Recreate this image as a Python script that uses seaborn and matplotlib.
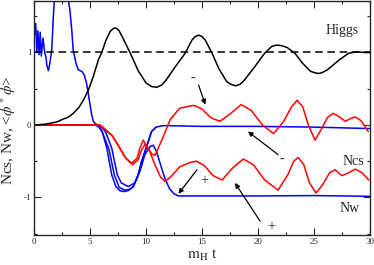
import matplotlib
matplotlib.use("Agg")
import matplotlib.pyplot as plt
from matplotlib.ticker import MultipleLocator
import pandas as pd
import seaborn as sns

# Higgs <phi* phi>
higgs_t = [0, 1.0, 2.0, 2.6, 3.1, 3.5, 4.0, 4.4, 4.85, 5.3, 5.75, 6.05, 6.4, 6.8, 7.0, 7.2,
           7.4, 7.6, 8.0, 8.6, 9.3, 10.0, 10.5, 10.95, 11.4, 11.8, 12.6, 13.5, 14.1, 14.4, 14.7,
           15.0, 15.3, 15.9, 16.5, 17.2, 17.6, 18.0, 18.4, 18.8, 19.7, 20.6, 21.2, 21.6, 21.9,
           22.2, 22.6, 23.3, 24.0, 24.7, 25.1, 25.4, 25.7, 26.2, 27.2, 28.1, 28.9, 29.5, 30.0]
higgs_v = [0.0, 0.01, 0.04, 0.08, 0.11, 0.16, 0.24, 0.34, 0.48, 0.67, 0.90, 1.0, 1.16, 1.29, 1.32, 1.34,
           1.33, 1.30, 1.18, 0.99, 0.75, 0.58, 0.53, 0.52, 0.55, 0.62, 0.80, 0.99, 1.17, 1.22, 1.24,
           1.22, 1.17, 0.99, 0.78, 0.60, 0.56, 0.54, 0.56, 0.62, 0.80, 0.99, 1.08, 1.10, 1.10,
           1.09, 1.07, 0.99, 0.85, 0.74, 0.72, 0.71, 0.72, 0.76, 0.89, 0.99, 1.01, 1.0, 1.0]

# blue, early oscillating curve that joins the Nw dip
nw_c_t = [0.05, 0.15, 0.25, 0.35, 0.45, 0.55, 0.65, 0.8, 0.95, 1.05, 1.15, 1.28, 1.4, 1.58,
          1.72, 1.85, 2.1, 2.5, 2.9, 3.07, 3.2, 3.37, 3.5, 3.75, 3.96, 4.26, 4.46, 4.7,
          4.94, 5.15, 5.3, 5.45, 5.7, 6.0, 6.3, 6.7, 7.17, 7.6, 8.1, 8.5, 8.87, 9.3,
          9.6, 9.9, 10.2, 10.5, 10.9]
nw_c_v = [1.25, 1.40, 1.0, 1.30, 0.97, 1.28, 0.95, 1.20, 1.0, 0.95, 0.82, 0.75, 0.84, 1.03,
          1.49, 1.80, 2.0, 2.1, 1.95, 1.72, 1.59, 1.31, 1.03, 0.85, 0.76, 0.74, 0.70, 0.57,
          0.34, 0.14, 0.05, 0.02, 0.0, -0.06, -0.18, -0.34, -0.69, -0.86, -0.90, -0.89, -0.85, -0.69,
          -0.51, -0.37, -0.23, -0.09, -0.03]

# Nw, "-" run (ends near 0)
nw_a_t = [0, 5.5, 5.8, 6.1, 6.5, 6.94, 7.3, 7.7, 8.1, 8.5, 8.87, 9.3, 9.6, 9.9, 10.2,
          10.5, 10.9, 11.5, 12.0, 15.0, 20.0, 25.0, 30.0]
nw_a_v = [0.0, 0.0, -0.03, -0.10, -0.32, -0.69, -0.85, -0.91, -0.92, -0.90, -0.85, -0.69,
          -0.51, -0.37, -0.23, -0.09, -0.03, -0.01, -0.01, -0.02, -0.02, -0.03, -0.05]

# Nw, "+" run (ends near -1)
nw_b_t = [0, 5.5, 6.0, 6.4, 6.94, 7.44, 7.8, 8.4, 9.0, 9.46, 9.9, 10.36, 10.65, 10.95,
          11.4, 11.7, 12.1, 12.5, 12.9, 14.0, 20.0, 25.0, 30.0]
nw_b_v = [0.0, 0.0, -0.02, -0.10, -0.32, -0.69, -0.80, -0.85, -0.80, -0.64, -0.41, -0.30,
          -0.28, -0.37, -0.60, -0.74, -0.88, -0.95, -0.98, -0.98, -0.98, -0.975, -0.985]

# Ncs, "-" run
ncs_a_t = [0, 5.8, 6.2, 6.94, 7.5, 8.1, 8.7, 9.2, 9.46, 9.75, 10.1, 10.5, 10.8, 11.1,
           11.55, 12.15, 13.0, 13.9, 14.3, 15.0, 15.8, 16.6, 17.5, 18.5, 19.4, 20.4,
           21.4, 22.3, 23.0, 23.5, 24.0, 24.5, 25.1, 25.7, 26.2, 26.7, 27.2, 27.8,
           28.3, 28.7, 29.2, 29.85]
ncs_a_v = [0.0, 0.0, -0.05, -0.14, -0.28, -0.44, -0.53, -0.46, -0.32, -0.21, -0.30, -0.40,
           -0.42, -0.32, -0.16, 0.07, 0.23, 0.26, 0.27, 0.22, 0.10, 0.05, 0.15, 0.28, 0.20,
           0.0, -0.12, 0.05, 0.25, 0.34, 0.25, 0.0, -0.21, -0.05, 0.10, 0.16, 0.12, 0.05,
           0.09, 0.11, 0.06, -0.09]

# Ncs, "+" run
ncs_b_t = [0, 5.9, 6.3, 7.0, 7.6, 8.2, 8.8, 9.3, 9.6, 9.9, 10.3, 10.8, 11.3, 11.7, 12.2,
           13.0, 13.9, 14.5, 15.2, 16.0, 16.8, 17.7, 18.7, 19.6, 20.6, 21.8, 22.7,
           23.2, 23.6, 24.1, 24.6, 25.2, 25.8, 26.4, 26.9, 27.5, 28.1, 28.7, 29.3, 29.9]
ncs_b_v = [0.0, 0.0, -0.05, -0.15, -0.30, -0.46, -0.55, -0.48, -0.35, -0.27, -0.35, -0.55,
           -0.72, -0.78, -0.72, -0.58, -0.52, -0.50, -0.56, -0.70, -0.76, -0.60, -0.47,
           -0.55, -0.76, -0.90, -0.68, -0.50, -0.45, -0.55, -0.80, -0.94, -0.82, -0.66,
           -0.62, -0.70, -0.66, -0.61, -0.66, -0.76]

sns.set_style("ticks")
plt.rcParams['font.family'] = ['Liberation Serif', 'DejaVu Serif']
plt.rcParams['mathtext.fontset'] = 'stix'
plt.rcParams['axes.unicode_minus'] = False

fig, ax = plt.subplots(figsize=(3.74, 2.65), dpi=100)
fig.subplots_adjust(left=0.091, right=0.989, top=0.996, bottom=0.113)

lw = 1.1
for tt, vv in [(nw_c_t, nw_c_v), (nw_a_t, nw_a_v), (nw_b_t, nw_b_v)]:
    sns.lineplot(x=tt, y=vv, ax=ax, color='#0000ff', lw=lw)
for tt, vv in [(ncs_a_t, ncs_a_v), (ncs_b_t, ncs_b_v)]:
    sns.lineplot(x=tt, y=vv, ax=ax, color='#ff0000', lw=lw)
sns.lineplot(x=higgs_t, y=higgs_v, ax=ax, color='black', lw=lw)
ax.axhline(1.0, color='black', lw=lw, ls=(0, (5, 3)))

ax.set_xlim(0, 30)
ax.set_ylim(-1.52, 1.71)
ax.xaxis.set_major_locator(MultipleLocator(5))
ax.xaxis.set_minor_locator(MultipleLocator(2.5))
ax.yaxis.set_major_locator(MultipleLocator(1))
ax.yaxis.set_minor_locator(MultipleLocator(0.5))
ax.tick_params(which='both', direction='in', top=True, right=True, labelsize=6.5, width=0.8)
ax.tick_params(which='major', length=5, pad=2)
ax.tick_params(which='minor', length=2.5)
for s in ax.spines.values():
    s.set_linewidth(1.0)

ax.set_xlabel(r'$\mathrm{m_H\ t}$', fontsize=11, labelpad=1.5)
ax.set_ylabel(r'Ncs, Nw, <$\phi^*\phi$>', fontsize=11)
ax.yaxis.set_label_coords(-0.047, 0.45)

ax.text(27.5, 1.30, 'Higgs', fontsize=10, ha='center', va='center')
ax.text(28.5, -0.50, 'Ncs', fontsize=10, ha='center', va='center')
ax.text(28.2, -1.15, 'Nw', fontsize=10, ha='center', va='center')
ax.text(14.2, 0.64, '-', fontsize=10, ha='center', va='center')
ax.text(22.1, -0.48, '-', fontsize=10, ha='center', va='center')
ax.text(15.2, -0.77, '+', fontsize=10, ha='center', va='center')
ax.text(21.2, -1.40, '+', fontsize=10, ha='center', va='center')

arrow = dict(arrowstyle='-|>', color='black', lw=0.9, mutation_scale=7, shrinkA=0, shrinkB=0)
ax.annotate('', xy=(15.3, 0.28), xytext=(14.7, 0.55), arrowprops=arrow)
ax.annotate('', xy=(19.1, -0.09), xytext=(21.8, -0.41), arrowprops=arrow)
ax.annotate('', xy=(12.9, -0.95), xytext=(14.55, -0.62), arrowprops=arrow)
ax.annotate('', xy=(17.95, -0.80), xytext=(20.2, -1.33), arrowprops=arrow)

fig.savefig('out.png', dpi=100)
